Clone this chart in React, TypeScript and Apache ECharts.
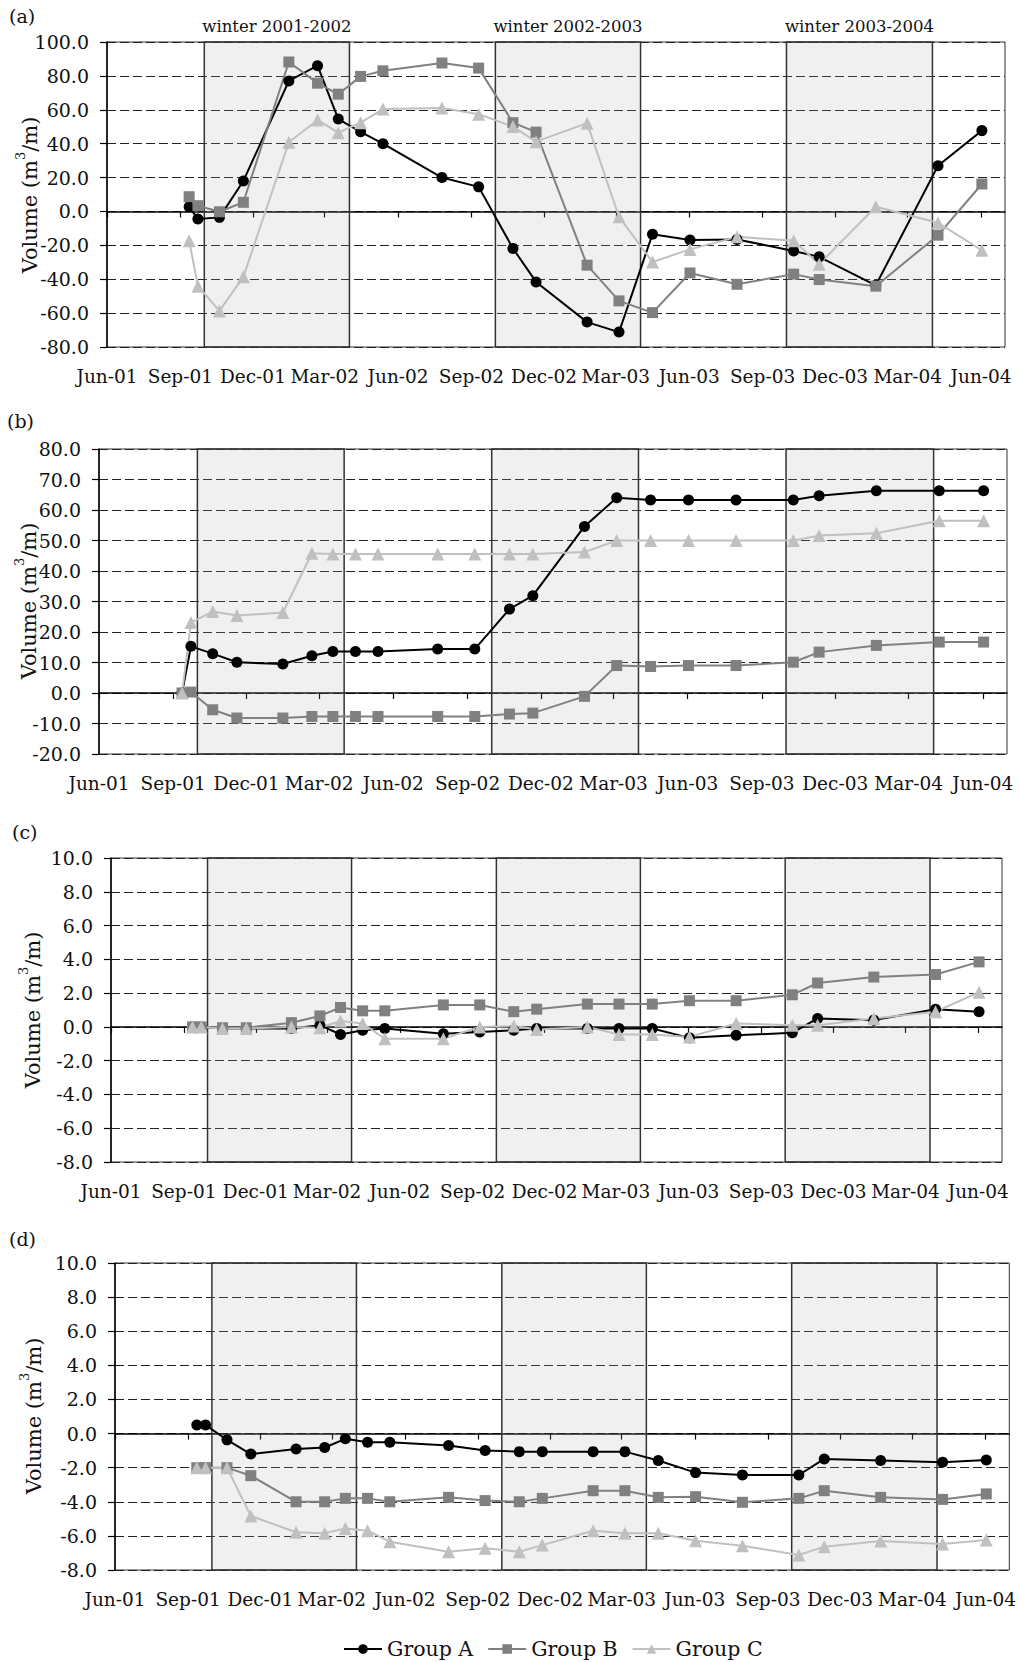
import React, { useEffect, useRef } from "react";
import * as echarts from "echarts";

// Survey dates shared by every profile group
const surveyDates = [
  "2001-09-12", "2001-09-23", "2001-10-20", "2001-11-19", "2002-01-15", "2002-02-20",
  "2002-03-18", "2002-04-15", "2002-05-13", "2002-07-26", "2002-09-10", "2002-10-23",
  "2002-11-21", "2003-01-24", "2003-03-05", "2003-04-16", "2003-06-02", "2003-07-31",
  "2003-10-10", "2003-11-11", "2004-01-21", "2004-04-08", "2004-06-02",
];

// (a)
const aGroupA = [2.8, -4.5, -3.5, 18.0, 77.0, 86.0, 54.5, 47.0, 40.0, 20.0, 14.5, -21.8, -41.6, -65.3, -71.2, -13.4, -16.9, -16.5, -23.3, -26.8, -43.6, 27.0, 47.7];
const aGroupB = [8.7, 3.4, -0.2, 5.4, 88.2, 75.7, 69.2, 79.7, 83.0, 87.6, 84.6, 52.4, 46.8, -31.7, -52.8, -59.7, -36.3, -43.0, -37.0, -40.2, -44.1, -14.0, 16.2];
const aGroupC = [-17.3, -44.1, -58.7, -38.6, 40.8, 54.0, 46.5, 52.4, 60.4, 61.0, 57.4, 50.1, 41.2, 52.1, -3.2, -29.8, -22.4, -15.0, -17.3, -31.1, 2.8, -6.7, -22.9];

// (b)
const bGroupA = [0.0, 15.3, 12.9, 10.1, 9.5, 12.2, 13.6, 13.6, 13.6, 14.4, 14.4, 27.5, 31.9, 54.6, 64.0, 63.3, 63.3, 63.3, 63.3, 64.7, 66.3, 66.3, 66.3];
const bGroupB = [0.0, 0.3, -5.5, -8.2, -8.2, -7.7, -7.7, -7.7, -7.7, -7.7, -7.7, -6.9, -6.6, -1.1, 9.0, 8.7, 9.0, 9.0, 10.1, 13.4, 15.6, 16.7, 16.7];
const bGroupC = [0.0, 23.1, 26.7, 25.4, 26.4, 45.8, 45.6, 45.6, 45.6, 45.6, 45.6, 45.6, 45.6, 46.2, 50.0, 50.0, 50.0, 50.0, 50.0, 51.6, 52.4, 56.5, 56.5];

// (c)
const cGroupA = [0.0, 0.0, -0.1, -0.1, -0.1, 0.1, -0.45, -0.2, -0.1, -0.4, -0.3, -0.2, -0.1, -0.1, -0.1, -0.1, -0.65, -0.5, -0.35, 0.5, 0.4, 1.05, 0.9];
const cGroupB = [0.0, 0.0, -0.05, -0.05, 0.25, 0.65, 1.15, 0.95, 0.95, 1.3, 1.3, 0.9, 1.05, 1.35, 1.35, 1.35, 1.55, 1.55, 1.9, 2.6, 2.95, 3.1, 3.85];
const cGroupC = [0.0, 0.0, -0.1, -0.1, 0.0, -0.05, 0.35, 0.2, -0.7, -0.7, 0.0, 0.05, -0.15, 0.0, -0.45, -0.45, -0.6, 0.2, 0.1, 0.1, 0.5, 0.9, 2.05];

// (d)
const dGroupA = [0.5, 0.5, -0.37, -1.2, -0.9, -0.82, -0.31, -0.51, -0.51, -0.7, -1.0, -1.06, -1.06, -1.06, -1.06, -1.58, -2.29, -2.43, -2.43, -1.49, -1.58, -1.68, -1.55];
const dGroupB = [-2.0, -2.0, -2.0, -2.47, -4.0, -4.0, -3.8, -3.8, -4.0, -3.74, -3.93, -4.0, -3.8, -3.35, -3.35, -3.74, -3.7, -4.03, -3.8, -3.35, -3.74, -3.86, -3.54];
const dGroupC = [-2.0, -2.0, -2.0, -4.83, -5.79, -5.85, -5.56, -5.7, -6.34, -6.93, -6.73, -6.93, -6.54, -5.7, -5.85, -5.85, -6.28, -6.58, -7.12, -6.63, -6.3, -6.48, -6.24];

// Axis ticks along the date axis
const tickDates = [
  "2001-06-01", "2001-09-01", "2001-12-01", "2002-03-01", "2002-06-01", "2002-09-01", "2002-12-01",
  "2003-03-01", "2003-06-01", "2003-09-01", "2003-12-01", "2004-03-01", "2004-06-01",
];
const tickLabels = [
  "Jun-01", "Sep-01", "Dec-01", "Mar-02", "Jun-02", "Sep-02", "Dec-02",
  "Mar-03", "Jun-03", "Sep-03", "Dec-03", "Mar-04", "Jun-04",
];

// Winter seasons (shaded)
const winterNames = ["winter 2001-2002", "winter 2002-2003", "winter 2003-2004"];
const winterStarts = ["2001-10-01", "2002-10-01", "2003-10-01"];
const winterEnds = ["2002-04-01", "2003-04-01", "2004-04-01"];

const groupNames = ["Group A", "Group B", "Group C"];
const panelNames = ["(a)", "(b)", "(c)", "(d)"];
const yMins = [-80, -20, -8, -8];
const yMaxs = [100, 80, 10, 10];
const ySteps = [20, 10, 2, 2];
const panelData = [
  [aGroupA, aGroupB, aGroupC],
  [bGroupA, bGroupB, bGroupC],
  [cGroupA, cGroupB, cGroupC],
  [dGroupA, dGroupB, dGroupC],
];

const FONT = "DejaVu Serif";
const X_MIN = Date.parse("2001-06-01");
const X_MAX = Date.parse("2004-07-01");

// Plot rectangles of the four panels
const grids = [
  { left: 107, top: 42, width: 898, height: 305 },
  { left: 99, top: 449, width: 908, height: 305 },
  { left: 111, top: 858, width: 891, height: 304 },
  { left: 115, top: 1263, width: 895, height: 307 },
];
const panelLabelPos = [
  [9, 16], [7, 421], [12, 832], [9, 1239],
];
const yTitlePos = [
  [27, 195], [26, 601], [30, 1010], [31, 1416],
];

const groupStyles = [
  { color: "#000000", symbol: "circle", size: 11 },
  { color: "#808080", symbol: "rect", size: 11 },
  { color: "#c0c0c0", symbol: "triangle", size: 13 },
];

function buildOption() {
  const ts = surveyDates.map((d) => Date.parse(d));
  const tickTs = tickDates.map((d) => Date.parse(d));
  const labelOf: Record<number, string> = {};
  tickTs.forEach((t, i) => (labelOf[t] = tickLabels[i]));

  const xAxis = grids.map((_, i) => ({
    type: "value",
    gridIndex: i,
    min: X_MIN,
    max: X_MAX,
    axisLine: { show: true, lineStyle: { color: "#000", width: 1.5 } },
    axisTick: { show: true, customValues: tickTs, length: 6, lineStyle: { color: "#000", width: 1.2 } },
    axisLabel: {
      customValues: tickTs,
      formatter: (v: number) => labelOf[v] ?? "",
      margin: 20,
      fontFamily: FONT,
      fontSize: 18.5,
      color: "#111",
    },
    splitLine: { show: false },
  }));

  const yAxis = grids.map((_, i) => ({
    type: "value",
    gridIndex: i,
    min: yMins[i],
    max: yMaxs[i],
    interval: ySteps[i],
    axisLine: { show: true, lineStyle: { color: "#000", width: 1.5 } },
    axisTick: { show: true, length: 7, lineStyle: { color: "#000", width: 1.2 } },
    axisLabel: {
      formatter: (v: number) => v.toFixed(1),
      margin: 18,
      fontFamily: FONT,
      fontSize: 19,
      color: "#111",
    },
    splitLine: { show: true, lineStyle: { color: "#222", width: 1, type: [9, 4] } },
  }));

  const series: any[] = [];
  panelData.forEach((groups, i) => {
    groups.forEach((vals, g) => {
      const st = groupStyles[g];
      series.push({
        type: "line",
        name: groupNames[g],
        xAxisIndex: i,
        yAxisIndex: i,
        data: vals.map((v, k) => [ts[k], v]),
        symbol: st.symbol,
        symbolSize: st.size,
        showSymbol: true,
        lineStyle: { color: st.color, width: 2 },
        itemStyle: { color: st.color, borderWidth: 0 },
        z: 2,
      });
    });
    // Winter shading drawn over the lines as a translucent screen
    series.push({
      type: "line",
      name: "winter",
      xAxisIndex: i,
      yAxisIndex: i,
      data: [],
      silent: true,
      z: 3,
      markArea: {
        silent: true,
        itemStyle: { color: "rgba(170,170,170,0.18)", borderColor: "#333", borderWidth: 1.5 },
        label: {
          show: i === 0,
          position: "top",
          distance: 6,
          fontFamily: FONT,
          fontSize: 16.5,
          color: "#111",
        },
        data: winterNames.map((n, w) => [
          { name: n, xAxis: Date.parse(winterStarts[w]) },
          { xAxis: Date.parse(winterEnds[w]) },
        ]),
      },
    });
  });

  const graphic: any[] = [];
  panelNames.forEach((n, i) => {
    graphic.push({
      type: "text",
      x: panelLabelPos[i][0],
      y: panelLabelPos[i][1],
      style: { text: n, fontFamily: FONT, fontSize: 19, fill: "#111", align: "left", verticalAlign: "middle" },
    });
    graphic.push({
      type: "text",
      x: yTitlePos[i][0],
      y: yTitlePos[i][1],
      rotation: Math.PI / 2,
      style: {
        text: "{t|Volume (m}{s|3}{t|/m)}",
        rich: {
          t: { fontFamily: FONT, fontSize: 21, fill: "#111", lineHeight: 26, verticalAlign: "bottom" },
          s: { fontFamily: FONT, fontSize: 13, fill: "#111", lineHeight: 26, verticalAlign: "top" },
        },
        align: "center",
        verticalAlign: "middle",
      },
    });
  });

  return {
    animation: false,
    backgroundColor: "#fff",
    grid: grids.map((g) => ({ ...g, show: true, borderColor: "#333", borderWidth: 1, backgroundColor: "transparent" })),
    xAxis,
    yAxis,
    series,
    graphic,
    legend: {
      data: groupNames,
      left: 343,
      top: 1638,
      padding: 0,
      itemWidth: 38,
      itemHeight: 12,
      itemGap: 14,
      textStyle: { fontFamily: FONT, fontSize: 20.5, lineHeight: 22, color: "#111" },
    },
  };
}

export default function App() {
  const ref = useRef<HTMLDivElement>(null);
  useEffect(() => {
    const chart = echarts.init(ref.current!, null, { renderer: "svg" });
    chart.setOption(buildOption() as any);
    return () => chart.dispose();
  }, []);
  return (
    <div
      ref={ref}
      style={{ position: "absolute", left: 0, top: 0, width: 1019, height: 1662, background: "#fff" }}
    />
  );
}
